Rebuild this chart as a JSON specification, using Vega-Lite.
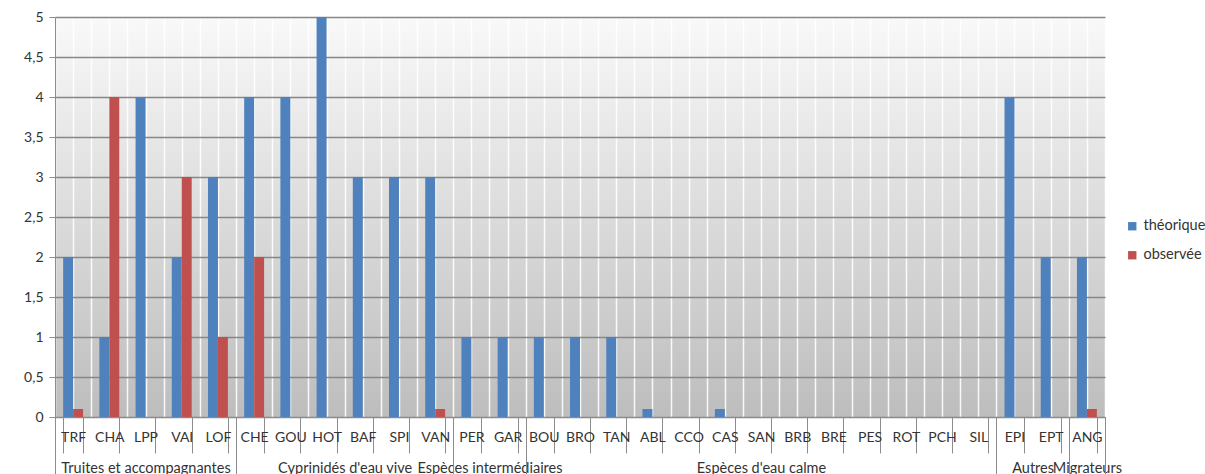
{
  "$schema": "https://vega.github.io/schema/vega-lite/v6.json",
  "width": 1050,
  "height": 400,
  "autosize": {"type": "none"},
  "padding": {"left": 55, "top": 17, "right": 100, "bottom": 57},
  "background": "white",
  "config": {
    "font": "Lato",
    "view": {
      "stroke": null,
      "fill": {"gradient": "linear", "x1": 0, "y1": 0, "x2": 0, "y2": 1, "stops": [{"offset": 0, "color": "#f9f9f9"}, {"offset": 1, "color": "#bdbdbd"}]}
    },
    "axis": {"labelColor": "#333333", "labelFont": "Lato"},
    "legend": {"labelFont": "Lato", "labelColor": "#333333"}
  },
  "data": {
    "values": [
      {"code": "TRF", "group": "Truites et accompagnantes", "type": "théorique", "value": 2},
      {"code": "TRF", "group": "Truites et accompagnantes", "type": "observée", "value": 0.1},
      {"code": "CHA", "group": "Truites et accompagnantes", "type": "théorique", "value": 1},
      {"code": "CHA", "group": "Truites et accompagnantes", "type": "observée", "value": 4},
      {"code": "LPP", "group": "Truites et accompagnantes", "type": "théorique", "value": 4},
      {"code": "LPP", "group": "Truites et accompagnantes", "type": "observée", "value": 0},
      {"code": "VAI", "group": "Truites et accompagnantes", "type": "théorique", "value": 2},
      {"code": "VAI", "group": "Truites et accompagnantes", "type": "observée", "value": 3},
      {"code": "LOF", "group": "Truites et accompagnantes", "type": "théorique", "value": 3},
      {"code": "LOF", "group": "Truites et accompagnantes", "type": "observée", "value": 1},
      {"code": "CHE", "group": "Cyprinidés d'eau vive", "type": "théorique", "value": 4},
      {"code": "CHE", "group": "Cyprinidés d'eau vive", "type": "observée", "value": 2},
      {"code": "GOU", "group": "Cyprinidés d'eau vive", "type": "théorique", "value": 4},
      {"code": "GOU", "group": "Cyprinidés d'eau vive", "type": "observée", "value": 0},
      {"code": "HOT", "group": "Cyprinidés d'eau vive", "type": "théorique", "value": 5},
      {"code": "HOT", "group": "Cyprinidés d'eau vive", "type": "observée", "value": 0},
      {"code": "BAF", "group": "Cyprinidés d'eau vive", "type": "théorique", "value": 3},
      {"code": "BAF", "group": "Cyprinidés d'eau vive", "type": "observée", "value": 0},
      {"code": "SPI", "group": "Cyprinidés d'eau vive", "type": "théorique", "value": 3},
      {"code": "SPI", "group": "Cyprinidés d'eau vive", "type": "observée", "value": 0},
      {"code": "VAN", "group": "Cyprinidés d'eau vive", "type": "théorique", "value": 3},
      {"code": "VAN", "group": "Cyprinidés d'eau vive", "type": "observée", "value": 0.1},
      {"code": "PER", "group": "Espèces intermédiaires", "type": "théorique", "value": 1},
      {"code": "PER", "group": "Espèces intermédiaires", "type": "observée", "value": 0},
      {"code": "GAR", "group": "Espèces intermédiaires", "type": "théorique", "value": 1},
      {"code": "GAR", "group": "Espèces intermédiaires", "type": "observée", "value": 0},
      {"code": "BOU", "group": "Espèces d'eau calme", "type": "théorique", "value": 1},
      {"code": "BOU", "group": "Espèces d'eau calme", "type": "observée", "value": 0},
      {"code": "BRO", "group": "Espèces d'eau calme", "type": "théorique", "value": 1},
      {"code": "BRO", "group": "Espèces d'eau calme", "type": "observée", "value": 0},
      {"code": "TAN", "group": "Espèces d'eau calme", "type": "théorique", "value": 1},
      {"code": "TAN", "group": "Espèces d'eau calme", "type": "observée", "value": 0},
      {"code": "ABL", "group": "Espèces d'eau calme", "type": "théorique", "value": 0.1},
      {"code": "ABL", "group": "Espèces d'eau calme", "type": "observée", "value": 0},
      {"code": "CCO", "group": "Espèces d'eau calme", "type": "théorique", "value": 0},
      {"code": "CCO", "group": "Espèces d'eau calme", "type": "observée", "value": 0},
      {"code": "CAS", "group": "Espèces d'eau calme", "type": "théorique", "value": 0.1},
      {"code": "CAS", "group": "Espèces d'eau calme", "type": "observée", "value": 0},
      {"code": "SAN", "group": "Espèces d'eau calme", "type": "théorique", "value": 0},
      {"code": "SAN", "group": "Espèces d'eau calme", "type": "observée", "value": 0},
      {"code": "BRB", "group": "Espèces d'eau calme", "type": "théorique", "value": 0},
      {"code": "BRB", "group": "Espèces d'eau calme", "type": "observée", "value": 0},
      {"code": "BRE", "group": "Espèces d'eau calme", "type": "théorique", "value": 0},
      {"code": "BRE", "group": "Espèces d'eau calme", "type": "observée", "value": 0},
      {"code": "PES", "group": "Espèces d'eau calme", "type": "théorique", "value": 0},
      {"code": "PES", "group": "Espèces d'eau calme", "type": "observée", "value": 0},
      {"code": "ROT", "group": "Espèces d'eau calme", "type": "théorique", "value": 0},
      {"code": "ROT", "group": "Espèces d'eau calme", "type": "observée", "value": 0},
      {"code": "PCH", "group": "Espèces d'eau calme", "type": "théorique", "value": 0},
      {"code": "PCH", "group": "Espèces d'eau calme", "type": "observée", "value": 0},
      {"code": "SIL", "group": "Espèces d'eau calme", "type": "théorique", "value": 0},
      {"code": "SIL", "group": "Espèces d'eau calme", "type": "observée", "value": 0},
      {"code": "EPI", "group": "Autres", "type": "théorique", "value": 4},
      {"code": "EPI", "group": "Autres", "type": "observée", "value": 0},
      {"code": "EPT", "group": "Autres", "type": "théorique", "value": 2},
      {"code": "EPT", "group": "Autres", "type": "observée", "value": 0},
      {"code": "ANG", "group": "Migrateurs", "type": "théorique", "value": 2},
      {"code": "ANG", "group": "Migrateurs", "type": "observée", "value": 0.1}
    ]
  },
  "layer": [
    {
      "mark": {"type": "rule", "opacity": 0},
      "encoding": {
        "x": {
          "datum": 0, "type": "quantitative",
          "scale": {"domain": [0, 29], "nice": false, "zero": false},
          "axis": {
            "orient": "bottom", "title": null,
            "values": [0,0.5,1,1.5,2,2.5,3,3.5,4,4.5,5,5.5,6,6.5,7,7.5,8,8.5,9,9.5,10,10.5,11,11.5,12,12.5,13,13.5,14,14.5,15,15.5,16,16.5,17,17.5,18,18.5,19,19.5,20,20.5,21,21.5,22,22.5,23,23.5,24,24.5,25,25.5,26,26.5,27,27.5,28,28.5,29],
            "labelExpr": "datum.value == 2.5 ? 'Truites et accompagnantes' : datum.value == 8 ? \"Cyprinidés d'eau vive\" : datum.value == 12 ? 'Espèces intermédiaires' : datum.value == 19.5 ? \"Espèces d'eau calme\" : datum.value == 27 ? 'Autres' : datum.value == 28.5 ? 'Migrateurs' : ''",
            "ticks": false, "domain": false,
            "grid": true, "gridColor": "#ffffff", "gridWidth": 1.5, "gridOpacity": 0.9,
            "labelPadding": 44, "labelFontSize": 14.5,
            "labelOverlap": false, "labelBound": false, "labelFlush": false, "labelLimit": 0
          }
        }
      }
    },
    {
      "mark": {"type": "rule", "opacity": 0},
      "encoding": {
        "x": {
          "datum": 0, "type": "quantitative",
          "scale": {"domain": [0, 29], "nice": false, "zero": false},
          "axis": {
            "orient": "bottom", "title": null,
            "values": [0, 5, 11, 13, 26, 28, 29],
            "labels": false, "grid": false, "domain": false,
            "ticks": true, "tickSize": 60, "tickColor": "#8c8c8c", "tickWidth": 1
          }
        }
      }
    },
    {
      "mark": {"type": "bar"},
      "encoding": {
        "x": {
          "field": "code", "type": "nominal", "sort": null,
          "scale": {"paddingInner": 0.45, "paddingOuter": 0.225},
          "axis": {
            "orient": "bottom", "title": null, "labelAngle": 0,
            "tickBand": "extent", "tickSize": 36, "tickColor": "#8c8c8c",
            "domainColor": "#8c8c8c", "labelFontSize": 14, "labelPadding": -23
          }
        },
        "xOffset": {"field": "type", "type": "nominal", "sort": ["théorique", "observée"]},
        "y": {
          "field": "value", "type": "quantitative",
          "scale": {"domain": [0, 5], "nice": false},
          "axis": {
            "title": null,
            "values": [0,0.5,1,1.5,2,2.5,3,3.5,4,4.5,5],
            "format": ".1~f",
            "labelExpr": "replace(datum.label, '.', ',')",
            "gridColor": "#878787", "gridWidth": 1.5,
            "domainColor": "#8c8c8c", "tickColor": "#8c8c8c", "tickSize": 6,
            "labelFontSize": 14, "labelPadding": 6
          }
        },
        "color": {
          "field": "type", "type": "nominal",
          "scale": {"domain": ["théorique", "observée"], "range": ["#4F81BD", "#C0504D"]},
          "legend": {
            "title": null, "orient": "none", "legendX": 1070, "legendY": 202,
            "symbolType": "square", "symbolSize": 70, "symbolStrokeWidth": 0,
            "labelFontSize": 14.5, "rowPadding": 14
          }
        }
      }
    }
  ],
  "resolve": {"scale": {"x": "independent"}, "axis": {"x": "independent"}}
}
